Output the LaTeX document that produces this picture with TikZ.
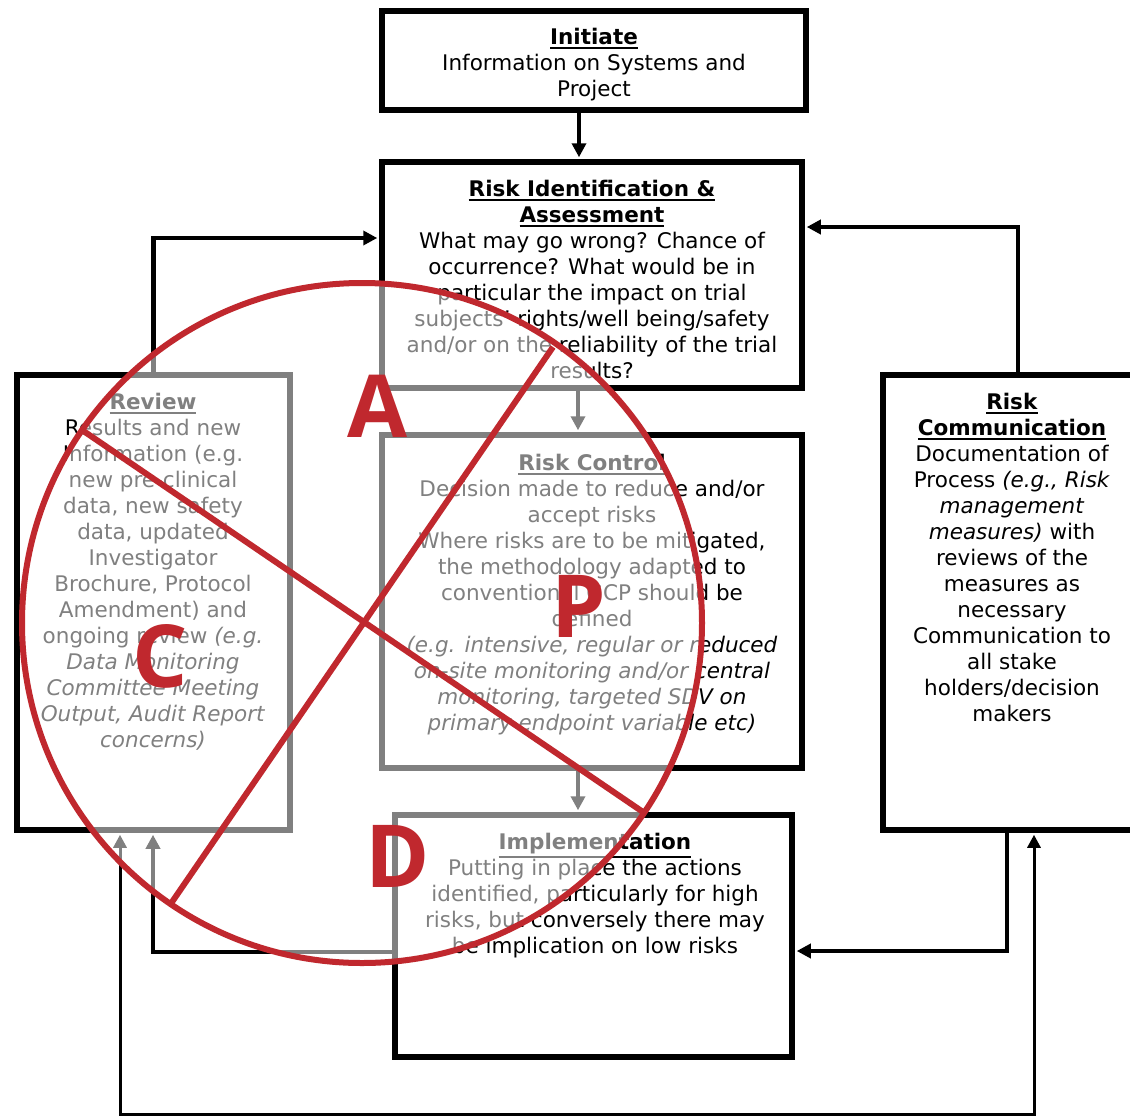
\documentclass[tikz,border=0pt]{standalone}
\usepackage{fontspec}
\setmainfont{DejaVu Sans}
\newfontfamily\letterfont{Open Sans}
\usetikzlibrary{arrows.meta,calc}
\newcommand\myul[1]{\leavevmode\vtop{\hbox{#1}\kern2pt\hrule height 1.8pt}}
\definecolor{markred}{HTML}{C0282E}
\begin{document}
\begin{tikzpicture}[x=1pt,y=-1pt,
  box/.style={draw=black, line width=5.5pt, inner sep=0pt, fill=none},
  txt/.style={anchor=north, inner sep=0pt, align=center, font=\fontsize{21.5}{26}\selectfont},
  arr/.style={line width=4.5pt, -{Triangle[length=14pt,width=14pt]}, shorten >=2pt},
  thinarr/.style={line width=3pt, {Triangle[length=13pt,width=13pt]}-{Triangle[length=13pt,width=13pt]}, shorten >=2pt, shorten <=2pt},
  redline/.style={draw=markred, line width=6pt},
  letter/.style={text=markred, inner sep=0pt, font=\letterfont\bfseries\fontsize{87}{87}\selectfont}
]
\useasboundingbox (0,0) rectangle (1130,1117);
\clip (0,0) rectangle (1130,1117);
\fill[white] (0,0) rectangle (1130,1117);

% boxes
\node[box, minimum width=424pt, minimum height=99pt] (init) at (594,60.5) {};
\node[box, minimum width=420pt, minimum height=226pt] (riskid) at (592,275) {};
\node[box, minimum width=420pt, minimum height=333pt] (ctrl) at (592,601.5) {};
\node[box, minimum width=397pt, minimum height=242pt] (impl) at (593.5,936) {};
\node[box, minimum width=273pt, minimum height=455pt] (review) at (153.5,602.5) {};
\node[box, minimum width=267pt, minimum height=455pt] (comm) at (1016.5,602.5) {};

% texts
\node[txt] (tinit) at (594,28) {\myul{\textbf{Initiate}}\\Information on Systems and\\Project};
\node[txt] (triskid) at (592,180) {\myul{\textbf{Risk Identification \&}}\\\myul{\textbf{Assessment}}\\What may go wrong? Chance of\\occurrence? What would be in\\particular the impact on trial\\subjects' rights/well being/safety\\and/or on the reliability of the trial\\results?};
\node[txt] (tctrl) at (592,454) {\myul{\textbf{Risk Control}}\\Decision made to reduce and/or\\accept risks\\Where risks are to be mitigated,\\the methodology adapted to\\conventional GCP should be\\defined\\\textit{(e.g. intensive, regular or reduced}\\\textit{on-site monitoring and/or central}\\\textit{monitoring, targeted SDV on}\\\textit{primary endpoint variable etc)}};
\node[txt] (timpl) at (595,833) {\myul{\textbf{Implementation}}\\Putting in place the actions\\identified, particularly for high\\risks, but conversely there may\\be implication on low risks};
\node[txt] (treview) at (153,393) {\myul{\textbf{Review}}\\Results and new\\Information (e.g.\\new pre-clinical\\data, new safety\\data, updated\\Investigator\\Brochure, Protocol\\Amendment) and\\ongoing review \textit{(e.g.}\\\textit{Data Monitoring}\\\textit{Committee Meeting}\\\textit{Output, Audit Report}\\\textit{concerns)}};
\node[txt] (tcomm) at (1012,393) {\myul{\textbf{Risk}}\\\myul{\textbf{Communication}}\\Documentation of\\Process \textit{(e.g., Risk}\\\textit{management}\\\textit{measures)} with\\reviews of the\\measures as\\necessary\\Communication to\\all stake\\holders/decision\\makers};

% helper coordinates
\coordinate (ya) at (0,238);
\coordinate (c1) at (1018,227);
\coordinate (c2) at (1007,951);
\coordinate (c3) at (120,1114);
\coordinate (c4) at (1034,1114);
\coordinate (c5) at (153,952);

% connectors
\draw[arr] ([xshift=-15pt]init.south) -- ([xshift=-13pt]riskid.north);
\draw[arr] ([xshift=-14pt]riskid.south) -- ([xshift=-14pt]ctrl.north);
\draw[arr] ([xshift=-14pt]ctrl.south) -- ([xshift=-15.5pt]impl.north);
\draw[arr] (review.north) |- (riskid.west |- ya);
\draw[arr] (comm.north -| c1) |- (riskid.east |- c1);
\draw[arr] (comm.south -| c2) |- (impl.east |- c2);
\draw[arr] (impl.west |- c5) -| (review.south -| c5);
\draw[thinarr] (review.south -| c3) -- (c3) -- (c4) -- (comm.south -| c4);

% overlay
\fill[white, opacity=0.5] (362,623) circle (340);
\draw[redline] (362,623) circle (340);
\draw[redline] (82,430) -- (643,812);
\draw[redline] (553,347) -- (172,902);
\node[letter] (A) at (378,406) {A};
\node[letter] (P) at (579,606) {P};
\node[letter] (C) at (160,656) {C};
\node[letter] (D) at (398,856) {D};
\end{tikzpicture}
\end{document}
